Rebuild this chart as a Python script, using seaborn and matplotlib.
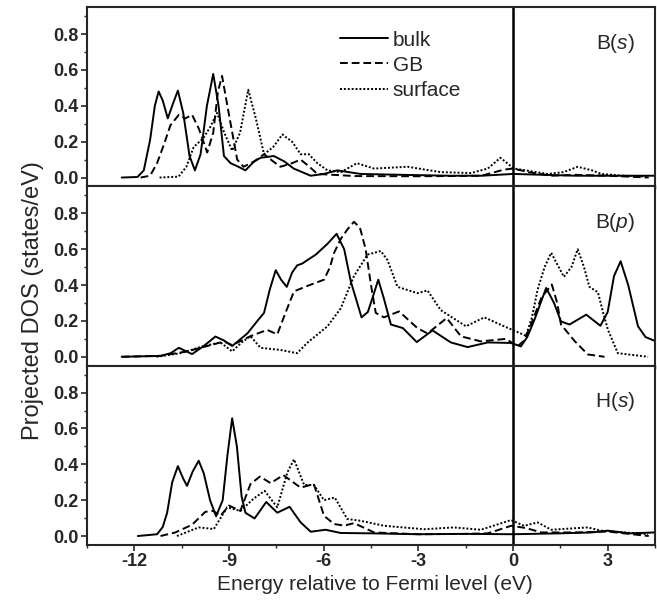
import numpy as np
import matplotlib
matplotlib.use("Agg")
import matplotlib.pyplot as plt
from matplotlib.ticker import MultipleLocator
import seaborn as sns

# projected DOS, energies in eV relative to E_F
# --- B(s) ---
bulk_s_x = [-12.4, -11.9, -11.7, -11.5, -11.35, -11.23, -11.1, -10.94, -10.78, -10.62, -10.45,
            -10.25, -10.08, -9.9, -9.7, -9.5, -9.33, -9.16, -8.95, -8.7, -8.48, -8.2, -8.0,
            -7.58, -7.25, -6.95, -6.41, -6.0, -5.57, -4.83, -3.5, -2.0, -1.0, 0.0, 1.0, 2.0, 3.0, 4.5]
bulk_s_y = [0.0, 0.003, 0.04, 0.21, 0.40, 0.48, 0.43, 0.33, 0.41, 0.485, 0.36,
            0.12, 0.04, 0.13, 0.40, 0.578, 0.40, 0.12, 0.08, 0.06, 0.04, 0.09, 0.11,
            0.12, 0.09, 0.05, 0.01, 0.02, 0.04, 0.02, 0.015, 0.01, 0.01, 0.02, 0.015, 0.01, 0.01, 0.01]
gb_s_x = [-11.8, -11.5, -11.28, -11.05, -10.86, -10.59, -10.38, -10.17, -9.95, -9.69, -9.5,
          -9.35, -9.22, -9.0, -8.74, -8.54, -8.2, -7.89, -7.6, -7.37, -7.0, -6.73, -6.45,
          -6.2, -5.0, -3.0, -1.0, -0.29, 0.0, 0.5, 1.2, 2.0, 3.0, 4.3]
gb_s_y = [0.0, 0.01, 0.08, 0.19, 0.29, 0.35, 0.33, 0.35, 0.27, 0.14, 0.25,
          0.48, 0.567, 0.35, 0.10, 0.06, 0.09, 0.13, 0.09, 0.06, 0.08, 0.10, 0.06,
          0.02, 0.008, 0.007, 0.01, 0.044, 0.05, 0.03, 0.01, 0.015, 0.01, 0.0]
surf_s_x = [-11.2, -10.6, -10.35, -10.12, -9.81, -9.6, -9.38, -9.15, -8.9, -8.65, -8.39,
            -8.15, -7.89, -7.6, -7.31, -7.0, -6.73, -6.47, -6.2, -5.88, -5.45, -4.95, -4.4,
            -3.34, -2.29, -1.33, -0.8, -0.4, 0.03, 0.4, 1.1, 1.6, 2.05, 2.5, 2.8, 3.5, 4.3]
surf_s_y = [0.0, 0.005, 0.06, 0.17, 0.22, 0.28, 0.36, 0.25, 0.15, 0.25, 0.49,
            0.33, 0.13, 0.17, 0.24, 0.20, 0.13, 0.13, 0.08, 0.04, 0.03, 0.08, 0.05,
            0.06, 0.03, 0.025, 0.05, 0.11, 0.05, 0.04, 0.02, 0.03, 0.06, 0.04, 0.02, 0.01, 0.005]

# --- B(p) ---
bulk_p_x = [-12.4, -11.17, -10.85, -10.59, -10.17, -9.8, -9.43, -9.15, -8.9, -8.42, -8.1,
            -7.89, -7.7, -7.52, -7.35, -7.17, -7.0, -6.84, -6.68, -6.25, -5.88, -5.59, -5.35,
            -5.14, -4.8, -4.6, -4.45, -4.27, -4.1, -3.87, -3.49, -3.05, -2.55, -1.97, -1.44,
            -0.8, -0.07, 0.25, 0.45, 0.68, 1.05, 1.3, 1.52, 1.79, 2.32, 2.77, 3.0, 3.2, 3.41,
            3.65, 3.96, 4.2, 4.5]
bulk_p_y = [0.0, 0.005, 0.02, 0.05, 0.015, 0.06, 0.113, 0.09, 0.06, 0.13, 0.2,
            0.245, 0.38, 0.483, 0.43, 0.39, 0.47, 0.51, 0.52, 0.57, 0.63, 0.686, 0.6,
            0.42, 0.22, 0.25, 0.33, 0.43, 0.33, 0.18, 0.16, 0.082, 0.147, 0.08, 0.054,
            0.08, 0.077, 0.058, 0.11, 0.207, 0.384, 0.30, 0.197, 0.18, 0.235, 0.173, 0.25, 0.45, 0.533,
            0.40, 0.17, 0.11, 0.088]
gb_p_x = [-12.4, -11.17, -10.33, -9.69, -9.16, -8.9, -8.32, -7.79, -7.47, -7.2, -6.94,
          -6.52, -5.99, -5.8, -5.67, -5.45, -5.25, -5.04, -4.85, -4.67, -4.5, -4.35, -4.09,
          -3.61, -3.03, -2.71, -2.1, -1.65, -1.02, -0.22, 0.14, 0.35, 0.57, 0.9, 1.23, 1.4,
          1.52, 1.95, 2.37, 2.9]
gb_p_y = [0.0, 0.005, 0.03, 0.06, 0.085, 0.065, 0.115, 0.15, 0.125, 0.25, 0.365,
          0.395, 0.43, 0.5, 0.58, 0.66, 0.71, 0.753, 0.72, 0.6, 0.4, 0.245, 0.22,
          0.253, 0.16, 0.13, 0.216, 0.114, 0.086, 0.1, 0.058, 0.09, 0.18, 0.33, 0.403, 0.3,
          0.18, 0.088, 0.013, 0.0]
surf_p_x = [-11.3, -10.54, -9.8, -9.27, -8.9, -8.6, -8.32, -8.0, -7.37, -6.84, -6.52,
            -5.88, -5.46, -5.04, -4.61, -4.19, -3.98, -3.66, -3.03, -2.71, -2.29, -1.49,
            -0.91, -0.28, 0.41, 0.6, 0.78, 1.0, 1.21, 1.61, 1.85, 2.05, 2.25, 2.42, 2.69,
            2.85, 3.01, 3.32, 4.28]
surf_p_y = [0.0, 0.02, 0.06, 0.08, 0.03, 0.08, 0.115, 0.05, 0.038, 0.02, 0.078,
            0.17, 0.27, 0.45, 0.57, 0.59, 0.54, 0.39, 0.355, 0.37, 0.26, 0.17,
            0.22, 0.17, 0.117, 0.22, 0.375, 0.5, 0.58, 0.446, 0.5, 0.6, 0.5, 0.39, 0.36,
            0.25, 0.15, 0.02, 0.0]

# --- H(s) ---
bulk_h_x = [-11.89, -11.28, -11.1, -10.96, -10.8, -10.62, -10.45, -10.33, -10.15, -9.96,
            -9.8, -9.6, -9.41, -9.2, -9.05, -8.9, -8.75, -8.6, -8.48, -8.19, -7.82, -7.47,
            -7.08, -6.73, -6.41, -5.94, -5.46, -4.5, -3.0, -1.5, 0.0, 1.5, 2.5, 3.0, 3.7, 4.5]
bulk_h_y = [0.0, 0.01, 0.05, 0.13, 0.3, 0.39, 0.32, 0.28, 0.36, 0.42,
            0.35, 0.2, 0.11, 0.2, 0.45, 0.657, 0.5, 0.22, 0.13, 0.098, 0.19, 0.13,
            0.163, 0.076, 0.024, 0.035, 0.017, 0.015, 0.01, 0.012, 0.01, 0.015, 0.02, 0.03, 0.015, 0.02]
gb_h_x = [-11.17, -10.7, -10.17, -9.75, -9.5, -9.27, -9.0, -8.64, -8.32, -8.02, -7.68,
          -7.28, -6.73, -6.31, -5.99, -5.67, -5.35, -5.04, -4.4, -3.0, -1.5, -0.8, -0.06,
          0.4, 0.9, 2.0, 3.0, 4.3]
gb_h_y = [0.0, 0.02, 0.063, 0.135, 0.14, 0.113, 0.17, 0.14, 0.29, 0.332, 0.295,
          0.34, 0.27, 0.29, 0.113, 0.067, 0.058, 0.072, 0.02, 0.01, 0.012, 0.015, 0.057,
          0.045, 0.02, 0.02, 0.025, 0.0]
surf_h_x = [-10.65, -9.96, -9.48, -9.06, -8.64, -8.21, -7.87, -7.47, -7.15, -6.94, -6.62,
            -6.31, -5.99, -5.65, -5.25, -4.83, -4.08, -2.82, -1.87, -1.02, -0.06, 0.35, 0.78,
            1.21, 2.37, 2.79, 4.28]
surf_h_y = [0.0, 0.048, 0.039, 0.16, 0.14, 0.21, 0.252, 0.16, 0.355, 0.428, 0.285,
            0.285, 0.2, 0.215, 0.095, 0.085, 0.057, 0.038, 0.048, 0.035, 0.089, 0.057, 0.076,
            0.035, 0.048, 0.03, 0.01]

panels = [
    ("B($\\mathit{s}$)", (bulk_s_x, bulk_s_y), (gb_s_x, gb_s_y), (surf_s_x, surf_s_y)),
    ("B($\\mathit{p}$)", (bulk_p_x, bulk_p_y), (gb_p_x, gb_p_y), (surf_p_x, surf_p_y)),
    ("H($\\mathit{s}$)", (bulk_h_x, bulk_h_y), (gb_h_x, gb_h_y), (surf_h_x, surf_h_y)),
]
series_names = ["bulk", "GB", "surface"]
styles = ["-", (0, (4, 2)), (0, (1, 1))]

sns.set_style("ticks")
plt.rcParams["font.family"] = ["Liberation Sans", "DejaVu Sans"]
plt.rcParams["mathtext.fontset"] = "custom"
plt.rcParams["mathtext.rm"] = "Liberation Sans"
plt.rcParams["mathtext.it"] = "Liberation Sans:italic"
plt.rcParams["axes.unicode_minus"] = False

fig, axes = plt.subplots(3, 1, sharex=True, figsize=(6.57, 6.03), dpi=100)
fig.subplots_adjust(left=0.1324, right=0.997, top=0.988, bottom=0.0962, hspace=0)

for i, (ax, (tag, *curves)) in enumerate(zip(axes, panels)):
    for (xs, ys), name, ls in zip(curves, series_names, styles):
        sns.lineplot(x=xs, y=ys, ax=ax, color="black", linestyle=ls, linewidth=1.4,
                     sort=False, label=name if i == 0 else None, legend=False)
    ax.axvline(0, color="black", linewidth=1.8)
    ax.set_xlim(-13.5, 4.5)
    ax.set_ylim(-0.05, 0.95)
    ax.yaxis.set_major_locator(MultipleLocator(0.2))
    ax.yaxis.set_minor_locator(MultipleLocator(0.1))
    ax.xaxis.set_major_locator(MultipleLocator(3))
    ax.xaxis.set_minor_locator(MultipleLocator(1.5))
    ax.tick_params(which="major", direction="out", length=4, width=1.2, pad=2,
                   labelsize=13)
    ax.tick_params(which="minor", direction="out", length=2.5, width=1.0)
    for lab in ax.get_yticklabels() + ax.get_xticklabels():
        lab.set_fontweight("bold")
    for sp in ax.spines.values():
        sp.set_linewidth(1.5)
        sp.set_visible(True)
    ax.text(0.965, 0.80, tag, transform=ax.transAxes, ha="right", va="center",
            fontsize=15)
    ax.set_ylabel("")

axes[0].legend(loc="upper left", bbox_to_anchor=(0.445, 0.87), frameon=False,
               fontsize=15, handlelength=2.3, handletextpad=0.25, labelspacing=0.3,
               borderpad=0, borderaxespad=0)

axes[2].set_xlabel("Energy relative to Fermi level (eV)", fontsize=15)
axes[2].xaxis.set_label_coords(0.507, -0.17)
fig.text(0.050, 0.502, "Projected DOS (states/eV)", rotation=90, ha="center",
         va="center", fontsize=17)

fig.savefig("out.png", dpi=100)
